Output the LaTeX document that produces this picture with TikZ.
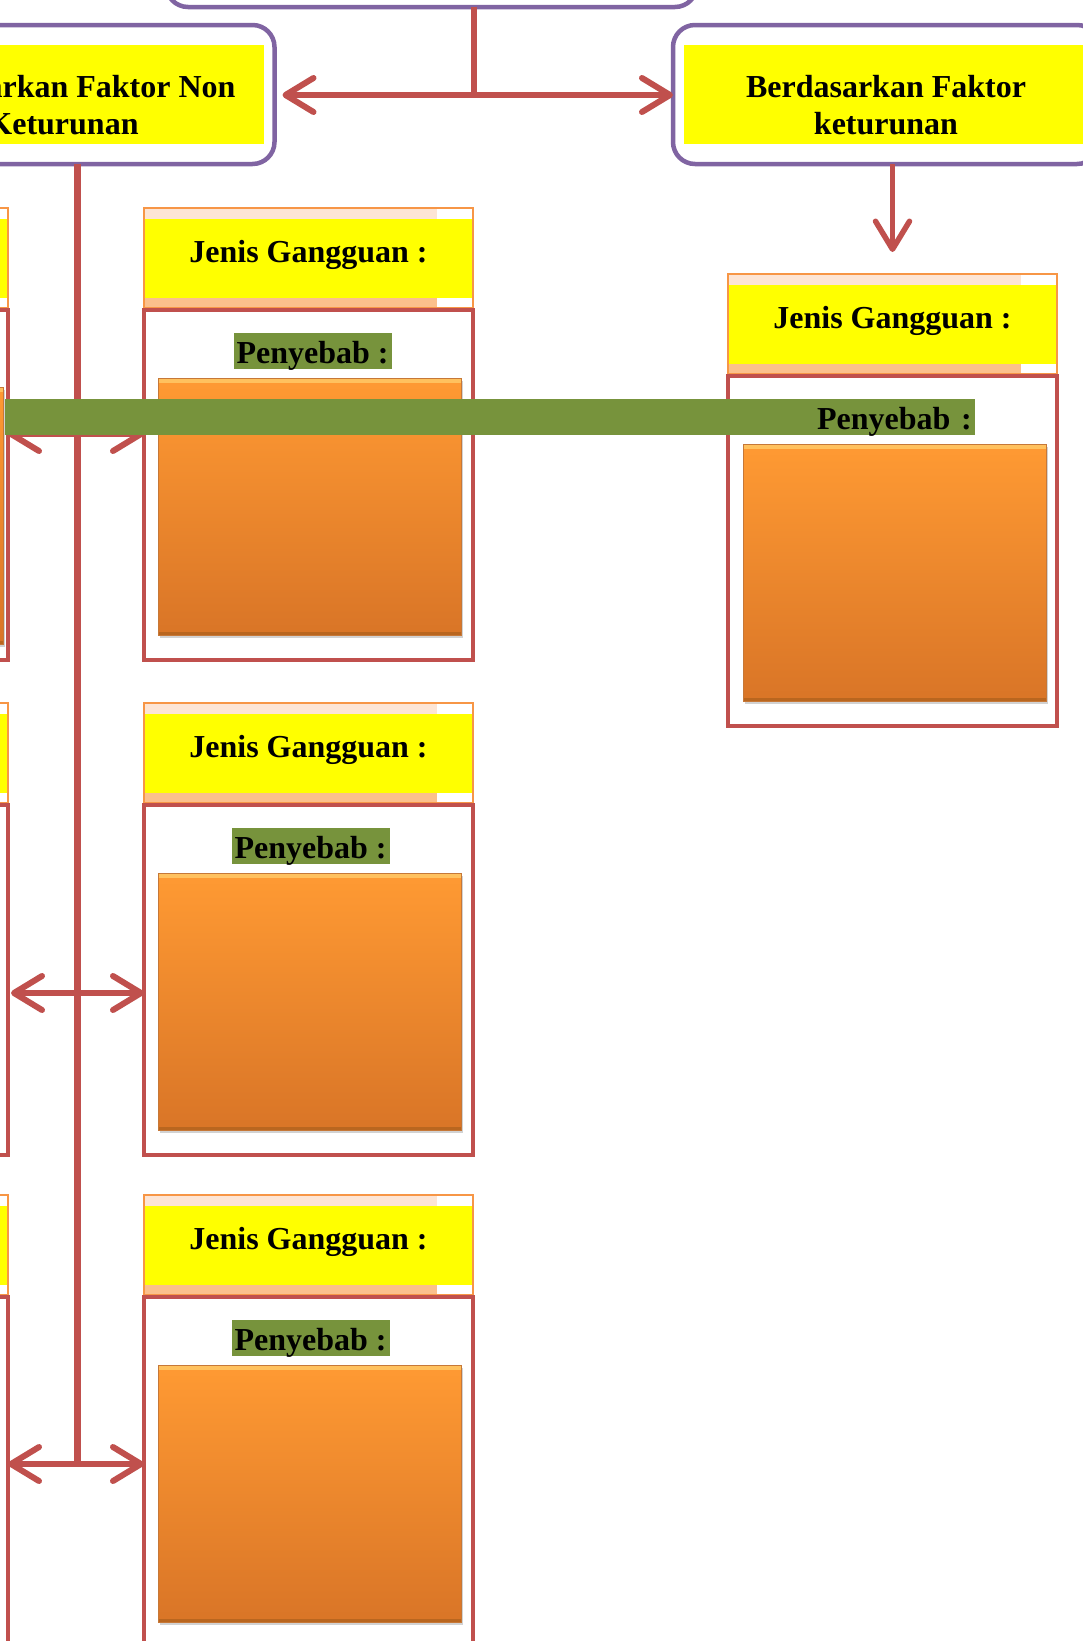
\documentclass[tikz,border=0pt]{standalone}
\usepackage{fontspec}
\setmainfont{Liberation Serif}
\usetikzlibrary{positioning,arrows.meta,shadows}

\definecolor{ungu}{HTML}{8064A2}
\definecolor{merah}{HTML}{C0504D}
\definecolor{kuning}{HTML}{FFFF00}
\definecolor{hijau}{HTML}{77933C}
\definecolor{jingga}{HTML}{F79646}
\definecolor{persikmuda}{HTML}{FDE5D5}
\definecolor{persik}{HTML}{FBC08C}
\definecolor{jinggaatas}{HTML}{FF9A33}
\definecolor{jinggabawah}{HTML}{D97527}
\definecolor{jinggaterang}{HTML}{FFC15E}
\definecolor{jinggagelap}{HTML}{B9661F}

\newcommand{\hurufjudul}{\fontsize{32}{37}\selectfont\bfseries}

\tikzset{
  induk/.style={draw=ungu, line width=4.5pt, rounded corners=22pt, fill=white,
    minimum width=426pt, minimum height=139pt, inner sep=0pt, outer sep=0pt,
    path picture={\fill[kuning, sharp corners]
      ([xshift=11pt,yshift=-20pt]path picture bounding box.north west) rectangle
      ([xshift=-11pt,yshift=20pt]path picture bounding box.south east);}},
  teks/.style={font=\hurufjudul, align=center, inner sep=0pt, anchor=north},
  jenis/.style={draw=jingga, line width=1.5pt, fill=kuning,
    minimum width=329pt, minimum height=100pt, inner sep=0pt, outer sep=0pt,
    font=\hurufjudul, text height=22pt, text depth=14pt,
    path picture={
      \fill[persikmuda] (path picture bounding box.north west) rectangle
        ([xshift=-36pt,yshift=-11pt]path picture bounding box.north east);
      \fill[white] ([xshift=-36pt]path picture bounding box.north east) rectangle
        ([yshift=-11pt]path picture bounding box.north east);
      \fill[persik] ([yshift=10pt]path picture bounding box.south west) rectangle
        ([xshift=-36pt]path picture bounding box.south east);
      \fill[white] ([xshift=-36pt,yshift=10pt]path picture bounding box.south east) rectangle
        (path picture bounding box.south east);}},
  kotak/.style={draw=merah, line width=4pt, minimum width=329pt, minimum height=350pt,
    inner sep=0pt, outer sep=0pt},
  sebab/.style={fill=hijau, font=\hurufjudul, inner xsep=3pt, inner ysep=0pt,
    text height=30pt, text depth=6pt},
  isi/.style={draw=jingga!80!black, line width=0.6pt, top color=jinggaatas, bottom color=jinggabawah,
    minimum width=303pt, minimum height=257pt, inner sep=0pt, outer sep=0pt,
    drop shadow={shadow xshift=2pt, shadow yshift=-3pt, opacity=0.35},
    path picture={
      \fill[jinggaterang] (path picture bounding box.north west) rectangle
        ([yshift=-5pt]path picture bounding box.north east);
      \fill[jinggagelap] ([yshift=3pt]path picture bounding box.south west) rectangle
        (path picture bounding box.south east);}},
  garis/.style={draw=merah, line width=6pt},
  panah/.style={draw=merah, line width=6pt}
}

\begin{document}
\begin{tikzpicture}[x=1pt, y=-1pt, >={Straight Barb[length=28pt,width=34pt,round]}]
  \path[fill=white, use as bounding box] (0,0) rectangle (1083,1641);

  % kotak induk
  \node[induk, minimum width=531pt] (gangguan) at (431.5,-62.5) {};
  \node[induk] (nonketurunan) at (61.5,94.5) {};
  \node[teks] (nonketurunanteks) at ([xshift=1.5pt,yshift=-50pt]nonketurunan.north) {Berdasarkan Faktor Non\\Keturunan};
  \node[induk] (keturunan) at (886,94.5) {};
  \node[teks] (keturunanteks) at ([yshift=-50pt]keturunan.north) {Berdasarkan Faktor\\keturunan};

  % kolom kiri
  \node[jenis, anchor=north east] (jenisKiriA) at (8,208) {};
  \node[kotak, below=2pt of jenisKiriA.south east, anchor=north east] (kotakKiriA) {};
  \node[isi, below=77pt of kotakKiriA.north east, anchor=north east, xshift=-5pt] (isiKiriA) {};
  \node[jenis, anchor=north east] (jenisKiriB) at (8,703) {};
  \node[kotak, below=2pt of jenisKiriB.south east, anchor=north east] (kotakKiriB) {};
  \node[jenis, anchor=north east] (jenisKiriC) at (8,1195) {};
  \node[kotak, below=2pt of jenisKiriC.south east, anchor=north east] (kotakKiriC) {};

  % kolom tengah
  \node[jenis, anchor=north west] (jenisA) at (144,208) {Jenis Gangguan :};
  \node[kotak, below=2pt of jenisA.south west, anchor=north west] (kotakA) {};
  \node[sebab, below=23pt of kotakA.north, xshift=4pt] (sebabA) {Penyebab :};
  \node[isi, below=68pt of kotakA.north, xshift=1pt] (isiA) {};

  \node[jenis, anchor=north west] (jenisB) at (144,703) {Jenis Gangguan :};
  \node[kotak, below=2pt of jenisB.south west, anchor=north west] (kotakB) {};
  \node[sebab, below=23pt of kotakB.north, xshift=2pt] (sebabB) {Penyebab :};
  \node[isi, below=68pt of kotakB.north, xshift=1pt] (isiB) {};

  \node[jenis, anchor=north west] (jenisC) at (144,1195) {Jenis Gangguan :};
  \node[kotak, below=2pt of jenisC.south west, anchor=north west] (kotakC) {};
  \node[sebab, below=23pt of kotakC.north, xshift=2pt] (sebabC) {Penyebab :};
  \node[isi, below=68pt of kotakC.north, xshift=1pt] (isiC) {};

  % batang dan cabang
  \coordinate (baris1) at (77,434);
  \coordinate (baris2) at (77,993);
  \coordinate (baris3) at (77,1464);
  \draw[garis, line width=7pt] (nonketurunan.south -| baris1) -- (baris3);
  \draw[panah, <->] (baris1 -| kotakKiriA.east) -- (baris1 -| kotakA.west);
  \draw[panah, <->] ([xshift=3pt]baris2 -| kotakKiriB.east) -- (baris2 -| kotakB.west);
  \draw[panah, <->] (baris3 -| kotakKiriC.east) -- (baris3 -| kotakC.west);

  % kolom kanan
  \node[jenis, anchor=north west] (jenisKanan) at (728,274) {Jenis Gangguan :};
  \node[kotak, below=2pt of jenisKanan.south west, anchor=north west] (kotakKanan) {};
  \node[sebab, text width=964pt, align=right, anchor=north east] (sebabKanan)
    at ([xshift=82.5pt,yshift=-23pt]kotakKanan.north) {Penyebab :};
  \node[isi, below=68pt of kotakKanan.north, xshift=2pt] (isiKanan) {};

  % panah atas
  \coordinate (cabang) at (474,95);
  \draw[garis] (gangguan.south -| cabang) -- (cabang);
  \draw[panah, <->] ([xshift=8pt]nonketurunan.east |- cabang) -- (keturunan.west |- cabang);
  \draw[panah, line width=5.5pt, ->] (keturunan.south -| jenisKanan.north) -- ([yshift=22pt]jenisKanan.north);
\end{tikzpicture}
\end{document}
